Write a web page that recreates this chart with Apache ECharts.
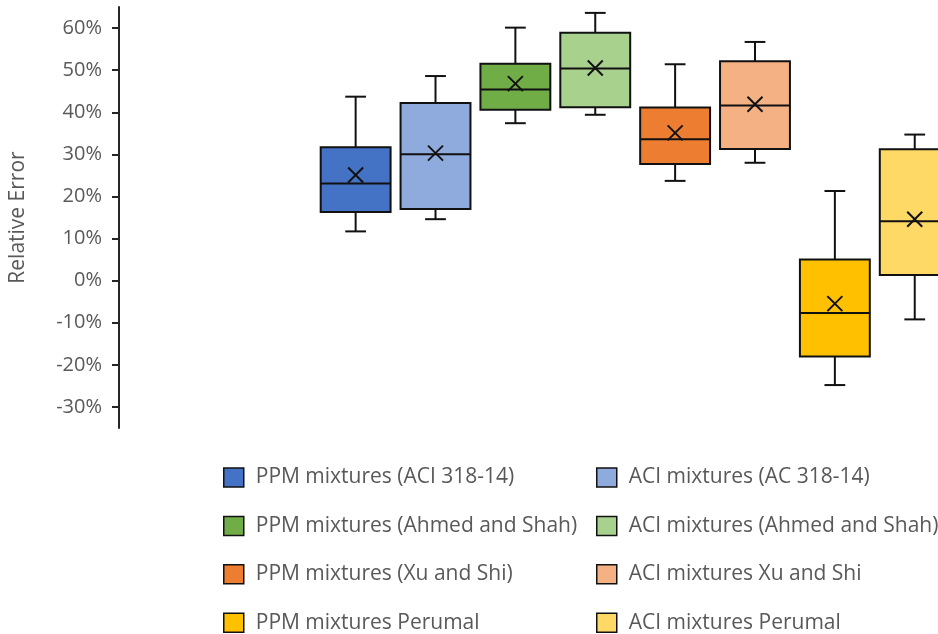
<!DOCTYPE html>
<html>
<head>
<meta charset="utf-8">
<script src="https://cdn.jsdelivr.net/npm/echarts@6/dist/echarts.min.js"></script>
<style>html,body{margin:0;padding:0;background:#fff;}#chart{width:938px;height:634px;}</style>
</head>
<body>
<div id="chart"></div>
<script>
const categories = [
  'PPM mixtures (ACI 318-14)',
  'ACI mixtures (AC 318-14)',
  'PPM mixtures (Ahmed and Shah)',
  'ACI mixtures (Ahmed and Shah)',
  'PPM mixtures (Xu and Shi)',
  'ACI mixtures Xu and Shi',
  'PPM mixtures Perumal',
  'ACI mixtures Perumal'
];
const whiskerMin = [0.117, 0.146, 0.374, 0.394, 0.237, 0.280, -0.248, -0.092];
const quartile1  = [0.163, 0.170, 0.406, 0.412, 0.277, 0.313, -0.180, 0.0135];
const medians    = [0.231, 0.300, 0.454, 0.504, 0.336, 0.416, -0.077, 0.141];
const quartile3  = [0.317, 0.422, 0.515, 0.589, 0.411, 0.521, 0.050, 0.312];
const whiskerMax = [0.437, 0.486, 0.601, 0.636, 0.514, 0.567, 0.213, 0.347];
const means      = [0.251, 0.303, 0.468, 0.505, 0.351, 0.419, -0.0545, 0.146];
const colors = ['#4472C4', '#8FAADC', '#70AD47', '#A9D18E', '#ED7D31', '#F4B183', '#FFC000', '#FFD966'];
const yTickValues = [-0.3, -0.2, -0.1, 0, 0.1, 0.2, 0.3, 0.4, 0.5, 0.6];

const FONT = '"Open Sans", "Noto Sans", sans-serif';
const INK = '#111111';

function renderBox(params, api) {
  const xi = api.value(0);
  const cx = api.coord([xi, 0])[0];
  const band = api.size([1, 0])[0];
  const half = band * 0.4375;
  const capHalf = band * 0.13;
  const y = k => api.coord([xi, api.value(k)])[1];
  const yMin = y(1), yQ1 = y(2), yMed = y(3), yQ3 = y(4), yMax = y(5), yMean = y(6);
  const ls = { stroke: INK, lineWidth: 2 };
  const m = 7.5;
  return {
    type: 'group',
    children: [
      { type: 'line', shape: { x1: cx, y1: yMax, x2: cx, y2: yQ3 }, style: ls },
      { type: 'line', shape: { x1: cx, y1: yQ1, x2: cx, y2: yMin }, style: ls },
      { type: 'line', shape: { x1: cx - capHalf, y1: yMax, x2: cx + capHalf, y2: yMax }, style: ls },
      { type: 'line', shape: { x1: cx - capHalf, y1: yMin, x2: cx + capHalf, y2: yMin }, style: ls },
      { type: 'rect', shape: { x: cx - half, y: yQ3, width: half * 2, height: yQ1 - yQ3 },
        style: { fill: api.visual('color'), stroke: INK, lineWidth: 2 } },
      { type: 'line', shape: { x1: cx - half, y1: yMed, x2: cx + half, y2: yMed }, style: ls },
      { type: 'line', shape: { x1: cx - m, y1: yMean - m, x2: cx + m, y2: yMean + m }, style: ls },
      { type: 'line', shape: { x1: cx - m, y1: yMean + m, x2: cx + m, y2: yMean - m }, style: ls }
    ]
  };
}

const series = categories.map((name, i) => ({
  name: name,
  type: 'custom',
  renderItem: renderBox,
  itemStyle: { color: colors[i] },
  clip: false,
  encode: { x: 0, y: [1, 2, 3, 4, 5, 6] },
  data: [[i, whiskerMin[i], quartile1[i], medians[i], quartile3[i], whiskerMax[i], means[i]]]
}));

// one legend per entry, laid out as 2 columns x 4 rows
const legends = categories.map((name, i) => ({
  orient: 'horizontal',
  icon: 'rect',
  padding: 0,
  left: i % 2 === 0 ? 223 : 596,
  top: 467 + 48.4 * Math.floor(i / 2),
  itemWidth: 20,
  itemHeight: 19,
  itemStyle: { borderColor: INK, borderWidth: 1.5 },
  textStyle: { fontFamily: FONT, fontSize: 21, color: '#595959', padding: [0, 0, 0, 7] },
  selectedMode: false,
  data: [name]
}));

const chart = echarts.init(document.getElementById('chart'), null, { renderer: 'canvas' });
chart.setOption({
  backgroundColor: '#ffffff',
  animation: false,
  grid: { left: 314.7, right: 0, top: 7, bottom: 206 },
  xAxis: { type: 'value', min: -0.5, max: -0.5 + 623.3 / 80, show: false },
  yAxis: {
    type: 'value',
    min: -0.35,
    max: 0.65,
    offset: 196.7,
    name: 'Relative Error',
    nameLocation: 'middle',
    nameGap: 90,
    nameTextStyle: { fontFamily: FONT, fontSize: 21, color: '#595959' },
    axisLine: { show: true, onZero: false, lineStyle: { color: '#262626', width: 2 } },
    axisTick: { show: true, length: 7, lineStyle: { color: '#262626', width: 2 }, customValues: yTickValues },
    axisLabel: {
      customValues: yTickValues,
      margin: 17,
      fontFamily: FONT, fontSize: 20, color: '#595959',
      formatter: v => Math.round(v * 100) + '%'
    },
    splitLine: { show: false }
  },
  legend: legends,
  series: series
});
</script>
</body>
</html>
